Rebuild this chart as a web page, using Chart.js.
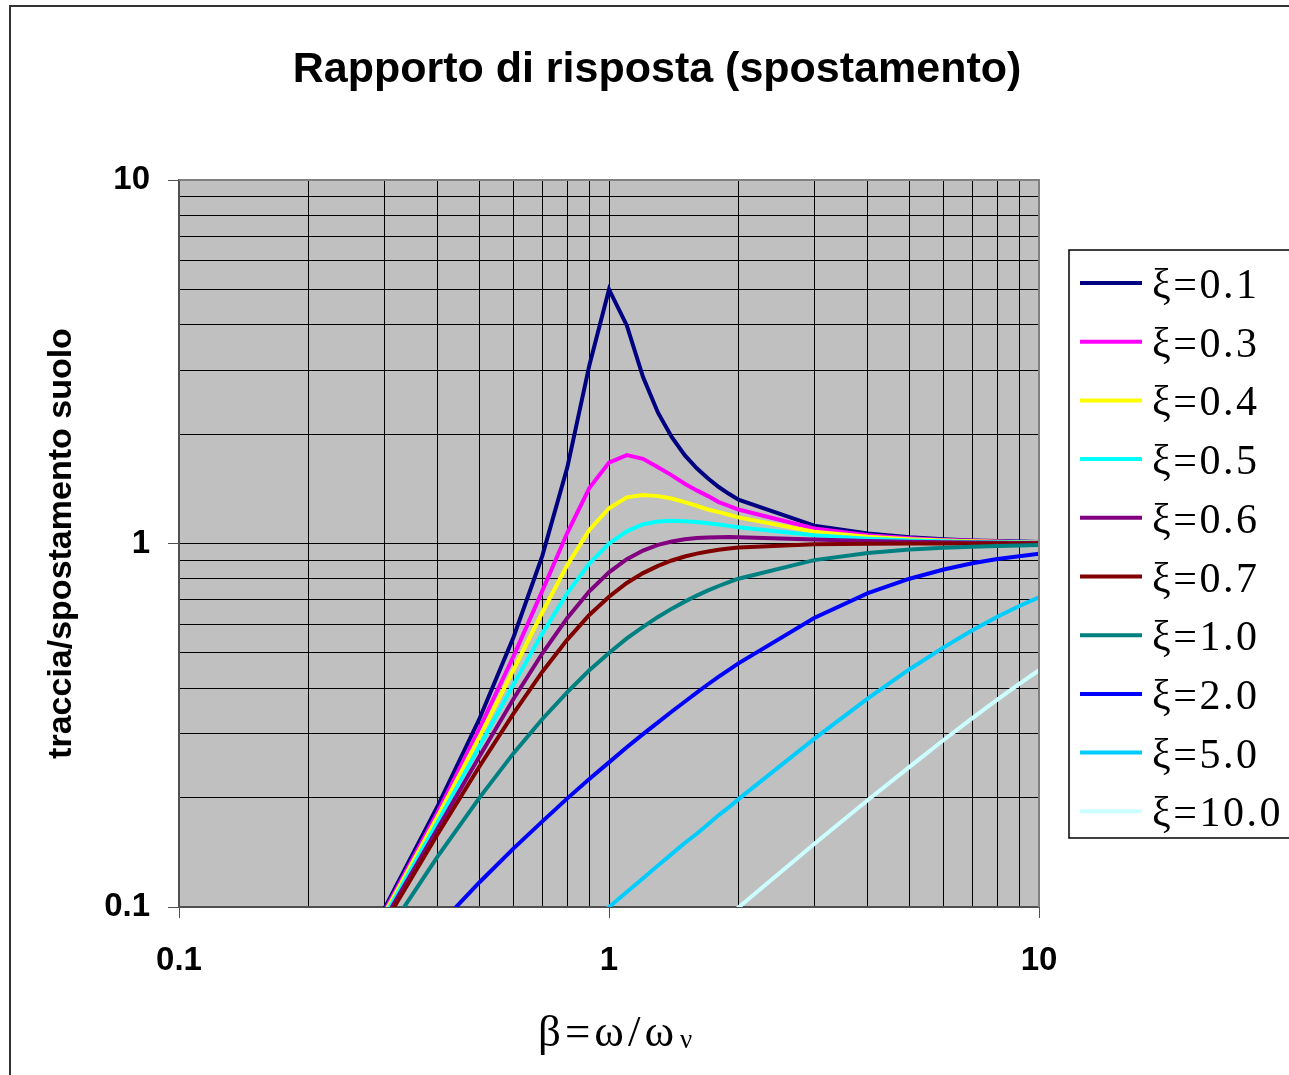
<!DOCTYPE html>
<html>
<head>
<meta charset="utf-8">
<title>Rapporto di risposta (spostamento)</title>
<script src="https://cdn.jsdelivr.net/npm/chart.js@4.4.1/dist/chart.umd.min.js"></script>
<style>
  body { margin: 0; background: #fff; }
  canvas { display: block; }
</style>
</head>
<body>
<canvas id="myChart" width="1289" height="1075"></canvas>
<script>
// beta = omega / omega_n
var betaValues = [0.2, 0.3, 0.4, 0.5, 0.6, 0.7, 0.8, 0.9, 1.0,
                  1.1, 1.2, 1.3, 1.4, 1.5, 1.6, 1.7, 1.8, 1.9,
                  2, 3, 4, 5, 6, 7, 8, 9, 10];

var xi01 = [0.0416, 0.0987, 0.190, 0.330, 0.553, 0.926, 1.62, 3.09, 5.00,
            3.98, 2.87, 2.29, 1.96, 1.75, 1.61, 1.51, 1.43, 1.37,
            1.32, 1.12, 1.065, 1.041, 1.028, 1.020, 1.016, 1.012, 1.010];
var xi03 = [0.0413, 0.0970, 0.183, 0.310, 0.490, 0.742, 1.07, 1.42, 1.67,
            1.75, 1.71, 1.62, 1.54, 1.46, 1.40, 1.35, 1.30, 1.27,
            1.24, 1.10, 1.053, 1.034, 1.023, 1.017, 1.013, 1.010, 1.008];
var xi04 = [0.0411, 0.0956, 0.178, 0.294, 0.450, 0.647, 0.872, 1.09, 1.25,
            1.34, 1.36, 1.35, 1.33, 1.30, 1.27, 1.24, 1.22, 1.20,
            1.18, 1.078, 1.043, 1.028, 1.019, 1.014, 1.011, 1.008, 1.007];
var xi05 = [0.0408, 0.0939, 0.172, 0.277, 0.410, 0.566, 0.730, 0.881, 1.00,
            1.08, 1.13, 1.15, 1.155, 1.152, 1.146, 1.137, 1.128, 1.118,
            1.109, 1.053, 1.031, 1.020, 1.014, 1.010, 1.008, 1.006, 1.005];
var xi06 = [0.0404, 0.0920, 0.165, 0.260, 0.374, 0.499, 0.624, 0.739, 0.833,
            0.905, 0.956, 0.991, 1.013, 1.027, 1.035, 1.039, 1.041, 1.042,
            1.041, 1.026, 1.016, 1.011, 1.008, 1.006, 1.004, 1.003, 1.003];
var xi07 = [0.0400, 0.0898, 0.159, 0.244, 0.341, 0.444, 0.544, 0.636, 0.714,
            0.779, 0.829, 0.868, 0.898, 0.921, 0.938, 0.951, 0.961, 0.969,
            0.975, 0.996, 0.999, 1.000, 1.000, 1.000, 1.000, 1.000, 1.000];
var xi10 = [0.0385, 0.0826, 0.138, 0.200, 0.265, 0.329, 0.390, 0.448, 0.500,
            0.548, 0.590, 0.628, 0.662, 0.692, 0.719, 0.743, 0.764, 0.783,
            0.800, 0.900, 0.941, 0.962, 0.973, 0.980, 0.985, 0.988, 0.990];
var xi20 = [0.0320, 0.0598, 0.0885, 0.117, 0.145, 0.172, 0.199, 0.225, 0.250,
            0.275, 0.299, 0.322, 0.345, 0.367, 0.389, 0.410, 0.430, 0.449,
            0.468, 0.624, 0.730, 0.800, 0.848, 0.882, 0.906, 0.923, 0.937];
var xi50 = [0.0180, 0.0287, 0.0391, 0.0494, 0.0597, 0.0698, 0.0799, 0.0900, 0.100,
            0.110, 0.120, 0.130, 0.140, 0.150, 0.159, 0.169, 0.179, 0.188,
            0.198, 0.290, 0.375, 0.451, 0.518, 0.577, 0.629, 0.673, 0.711];
var xi100 = [0.0097, 0.0148, 0.0199, 0.0249, 0.0300, 0.0350, 0.0400, 0.0450, 0.0500,
             0.0550, 0.0600, 0.0650, 0.0700, 0.0749, 0.0799, 0.0849, 0.0898, 0.0948,
             0.0997, 0.149, 0.197, 0.243, 0.288, 0.331, 0.372, 0.411, 0.448];

var seriesLabels = ['ξ=0.1', 'ξ=0.3', 'ξ=0.4', 'ξ=0.5', 'ξ=0.6',
                    'ξ=0.7', 'ξ=1.0', 'ξ=2.0', 'ξ=5.0', 'ξ=10.0'];
var seriesValues = [xi01, xi03, xi04, xi05, xi06, xi07, xi10, xi20, xi50, xi100];
var seriesColors = ['#000080', '#FF00FF', '#FFFF00', '#00FFFF', '#800080',
                    '#800000', '#008080', '#0000FF', '#00CCFF', '#CCFFFF'];

// log grid: one line per unit of each decade, labels only on the decades
var gridTicks = [0.1, 0.2, 0.3, 0.4, 0.5, 0.6, 0.7, 0.8, 0.9,
                 1, 2, 3, 4, 5, 6, 7, 8, 9, 10];
var labelTicks = [0.1, 1, 10];

var chartTitle = 'Rapporto di risposta (spostamento)';
var yTitle = 'traccia/spostamento suolo';
var xTitleMain = 'β=ω/ω';
var xTitleSub = 'ν';

var SANS = '"Liberation Sans", Arial, sans-serif';
var SERIF = '"Liberation Serif", "Times New Roman", serif';

var datasets = seriesValues.map(function (vals, i) {
    return {
        label: seriesLabels[i],
        data: betaValues.map(function (b, j) { return {x: b, y: vals[j]}; }),
        borderColor: seriesColors[i],
        backgroundColor: seriesColors[i],
        borderWidth: 4,
        pointRadius: 0,
        tension: 0,
        order: seriesValues.length - i
    };
});

function logTicks(scale) {
    scale.ticks = gridTicks.map(function (v) {
        return {value: v, major: labelTicks.indexOf(v) >= 0};
    });
}

function gridColor(c) {
    if (c.tick && c.tick.value === 10) return '#808080';
    return '#000000';
}

function tickColor(c) {
    return (c.tick && c.tick.major) ? '#505050' : 'rgba(0,0,0,0)';
}

function tickLabel(v) {
    return labelTicks.indexOf(v) >= 0 ? String(v) : '';
}

var framePlugin = {
    id: 'frame',
    beforeDraw: function (chart) {
        var ctx = chart.ctx, a = chart.chartArea;
        ctx.save();
        ctx.fillStyle = '#ffffff';
        ctx.fillRect(0, 0, chart.width, chart.height);
        ctx.strokeStyle = '#333333';
        ctx.lineWidth = 2;
        ctx.strokeRect(10, 6, chart.width + 20, chart.height + 20);
        ctx.fillStyle = '#c0c0c0';
        ctx.fillRect(a.left, a.top, a.right - a.left, a.bottom - a.top);
        ctx.restore();
    },
    afterDraw: function (chart) {
        var ctx = chart.ctx, a = chart.chartArea;
        ctx.save();

        // top and right edge of the plot area
        ctx.strokeStyle = '#808080';
        ctx.lineWidth = 2;
        ctx.beginPath();
        ctx.moveTo(a.left, a.top);
        ctx.lineTo(a.right, a.top);
        ctx.lineTo(a.right, a.bottom);
        ctx.stroke();

        // title
        ctx.fillStyle = '#000';
        ctx.textAlign = 'center';
        ctx.textBaseline = 'alphabetic';
        ctx.font = 'bold 43px ' + SANS;
        ctx.fillText(chartTitle, 657, 82);

        // x axis title with subscript
        ctx.textAlign = 'left';
        ctx.font = '45px ' + SERIF;
        ctx.letterSpacing = '4px';
        ctx.fillText(xTitleMain, 538, 1046);
        var w = ctx.measureText(xTitleMain).width;
        ctx.font = '27px ' + SERIF;
        ctx.letterSpacing = '0px';
        ctx.fillText(xTitleSub, 538 + w + 2, 1048);

        // legend
        var lx = 1069, ly = 250, lh = 588;
        ctx.fillStyle = '#fff';
        ctx.fillRect(lx, ly, 300, lh);
        ctx.strokeStyle = '#000';
        ctx.lineWidth = 1.5;
        ctx.strokeRect(lx, ly, 300, lh);
        ctx.font = '42px ' + SERIF;
        ctx.letterSpacing = '2.5px';
        for (var i = 0; i < seriesLabels.length; i++) {
            var y = 283 + i * 58.7;
            ctx.strokeStyle = seriesColors[i];
            ctx.lineWidth = 4;
            ctx.beginPath();
            ctx.moveTo(1080, y);
            ctx.lineTo(1142, y);
            ctx.stroke();
            ctx.fillStyle = '#000';
            ctx.fillText(seriesLabels[i], 1152, y + 15);
        }
        ctx.restore();
    }
};

var ctx = document.getElementById('myChart');
var myChart = new Chart(ctx, {
    type: 'line',
    data: { datasets: datasets },
    plugins: [framePlugin],
    options: {
        responsive: false,
        animation: false,
        layout: { padding: { top: 180, right: 250, bottom: 0, left: 0 } },
        plugins: {
            legend: { display: false },
            tooltip: { enabled: false },
            title: { display: false }
        },
        scales: {
            x: {
                type: 'logarithmic',
                min: 0.1,
                max: 10,
                afterBuildTicks: logTicks,
                afterFit: function (s) { s.height = 168; },
                ticks: {
                    autoSkip: false,
                    maxRotation: 0,
                    padding: 23,
                    color: '#000',
                    font: { family: SANS, size: 33, weight: 'bold' },
                    callback: tickLabel
                },
                grid: { color: gridColor, lineWidth: 1, tickLength: 11, tickColor: tickColor },
                border: { display: true, color: '#505050', width: 2 }
            },
            y: {
                type: 'logarithmic',
                min: 0.1,
                max: 10,
                afterBuildTicks: logTicks,
                afterFit: function (s) { s.width = 179; },
                ticks: {
                    autoSkip: false,
                    padding: 18,
                    color: '#000',
                    font: { family: SANS, size: 33, weight: 'bold' },
                    callback: tickLabel
                },
                grid: { color: gridColor, lineWidth: 1, tickLength: 11, tickColor: tickColor },
                border: { display: true, color: '#505050', width: 2 },
                title: {
                    display: true,
                    text: yTitle,
                    color: '#000',
                    padding: { top: 41, bottom: 0 },
                    font: { family: SANS, size: 34, weight: 'bold' }
                }
            }
        }
    }
});
</script>
</body>
</html>
